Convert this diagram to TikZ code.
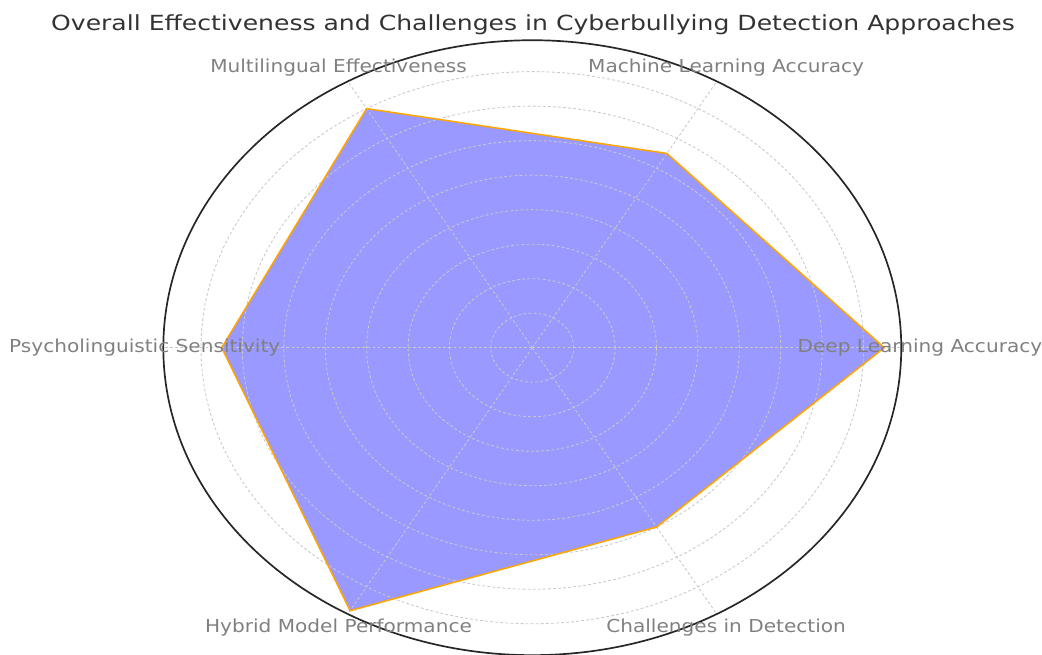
\documentclass[tikz,border=0pt]{standalone}
\usepackage{fontspec}
\setmainfont{DejaVu Sans}
\usetikzlibrary{positioning}
\definecolor{radarfill}{RGB}{153,153,255}
\definecolor{radaredge}{RGB}{255,165,0}
\definecolor{gridgray}{RGB}{200,200,200}
\definecolor{labelgray}{RGB}{128,128,128}
\definecolor{titlegray}{RGB}{51,51,51}

\begin{document}
\begin{tikzpicture}[x=0.025cm, y=0.025cm,
    gridline/.style={gridgray, line width=0.6pt, dash pattern=on 2pt off 1.6pt},
    axislabel/.style={text=labelgray, font=\fontsize{12.7}{15}\selectfont, xscale=1.125, inner sep=0pt}]
    \useasboundingbox (0,0) rectangle (1042,654);

    % Title
    \node[text=titlegray, font=\fontsize{14.8}{17}\selectfont, xscale=1.205, inner sep=0pt] (title) at (533,629.5) {Overall Effectiveness and Challenges in Cyberbullying Detection Approaches};

    \begin{scope}[shift={(532.3,306.3)}, x=1.035cm, y=0.8625cm]
        % Data points
        \foreach \a/\v/\n in {0/8.5/1, 60/6.5/2, 120/8/3, 180/7.5/4, 240/8.8/5, 300/6/6} {
            \coordinate (p\n) at (\a:\v);
        }
        \fill[radarfill] (p1) -- (p2) -- (p3) -- (p4) -- (p5) -- (p6) -- cycle;

        % Grid
        \foreach \r in {1,...,8} {
            \draw[gridline] (0,0) circle (\r);
        }
        \foreach \a in {0,60,...,300} {
            \draw[gridline] (0,0) -- (\a:8.91);
        }

        % Outline
        \draw[radaredge, line width=1.1pt, line join=round] (p1) -- (p2) -- (p3) -- (p4) -- (p5) -- (p6) -- cycle;
        \draw[black!85, line width=1.2pt] (0,0) circle (8.91);

        % Axis labels
        \foreach \a/\n/\txt in {0/deep/Deep Learning Accuracy, 60/machine/Machine Learning Accuracy, 120/multi/Multilingual Effectiveness, 180/psycho/Psycholinguistic Sensitivity, 240/hybrid/Hybrid Model Performance, 300/challenge/Challenges in Detection} {
            \node[axislabel] (\n) at (\a:9.36) {\txt};
        }
    \end{scope}
\end{tikzpicture}
\end{document}
